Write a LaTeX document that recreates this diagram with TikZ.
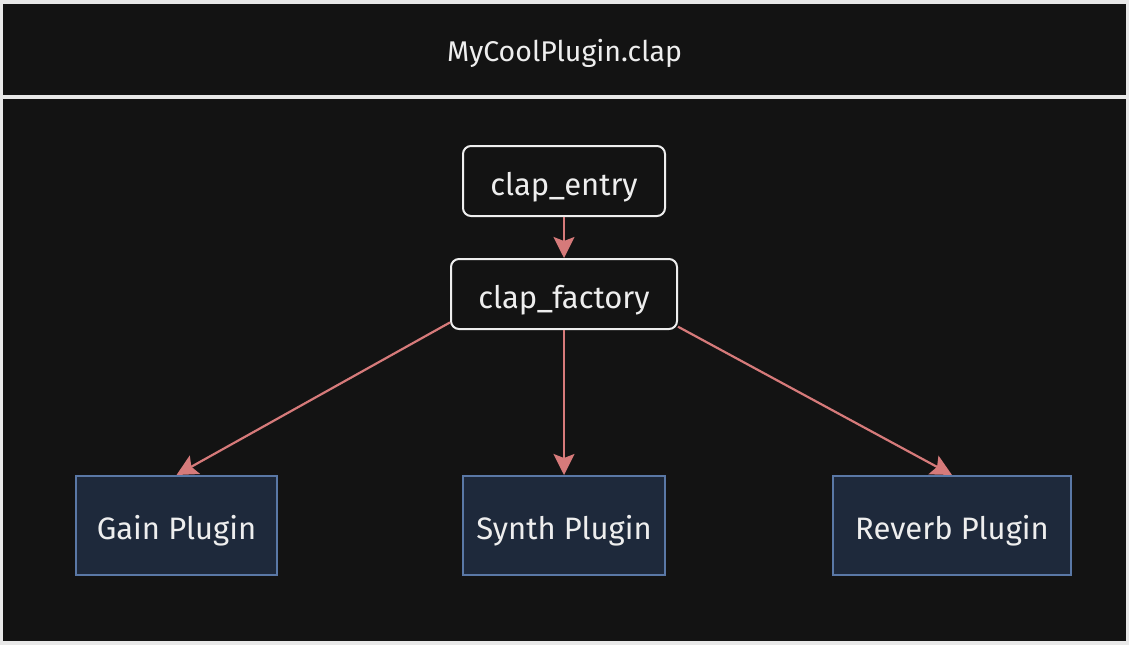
\documentclass[tikz,border=0pt]{standalone}
\usepackage{fontspec}
\setmainfont{Fira Sans}
\usetikzlibrary{arrows.meta}
\definecolor{bgdark}{HTML}{131313}
\definecolor{framegray}{HTML}{E8E8E8}
\definecolor{txt}{HTML}{EEEEEE}
\definecolor{pluginfill}{HTML}{1E293B}
\definecolor{pluginline}{HTML}{5A78A6}
\definecolor{linkred}{HTML}{D67A7A}
\begin{document}
\begin{tikzpicture}[x=1pt,y=-1pt,
  box/.style={draw=txt, line width=2pt, rounded corners=8pt, fill=bgdark, text=txt, inner sep=0pt, minimum height=70pt, text height=28pt, text depth=0pt, font=\fontsize{31}{36}\selectfont},
  plugin/.style={draw=pluginline, line width=2pt, fill=pluginfill, text=txt, inner sep=0pt, minimum height=99pt, text height=28pt, text depth=0pt, font=\fontsize{31}{36}\selectfont},
  link/.style={draw=linkred, line width=2.2pt, -{Stealth[length=21pt,width=21pt,inset=4pt]}}]
\useasboundingbox (0,0) rectangle (1129,645);
\fill[framegray] (0,0) rectangle (1129,645);
\fill[bgdark] (3,4) rectangle (1126,95);
\fill[bgdark] (3,99) rectangle (1126,641);
\node[text=txt, font=\fontsize{28.5}{33}\selectfont] (title) at (564.5,53) {MyCoolPlugin.clap};
\node[box, minimum width=202pt] (entry) at (564,181) {clap\_entry};
\node[box, minimum width=226pt] (factory) at (564,294) {clap\_factory};
\node[plugin, minimum width=201pt] (gain) at (176.5,525.5) {Gain Plugin};
\node[plugin, minimum width=202pt] (synth) at (564,525.5) {Synth Plugin};
\node[plugin, minimum width=238pt] (reverb) at (952,525.5) {Reverb Plugin};
\draw[link] (entry) -- (factory);
\draw[link] (factory.194) -- (gain.north);
\draw[link] (factory) -- (synth);
\draw[link] (factory.344) -- (reverb.north);
\end{tikzpicture}
\end{document}
